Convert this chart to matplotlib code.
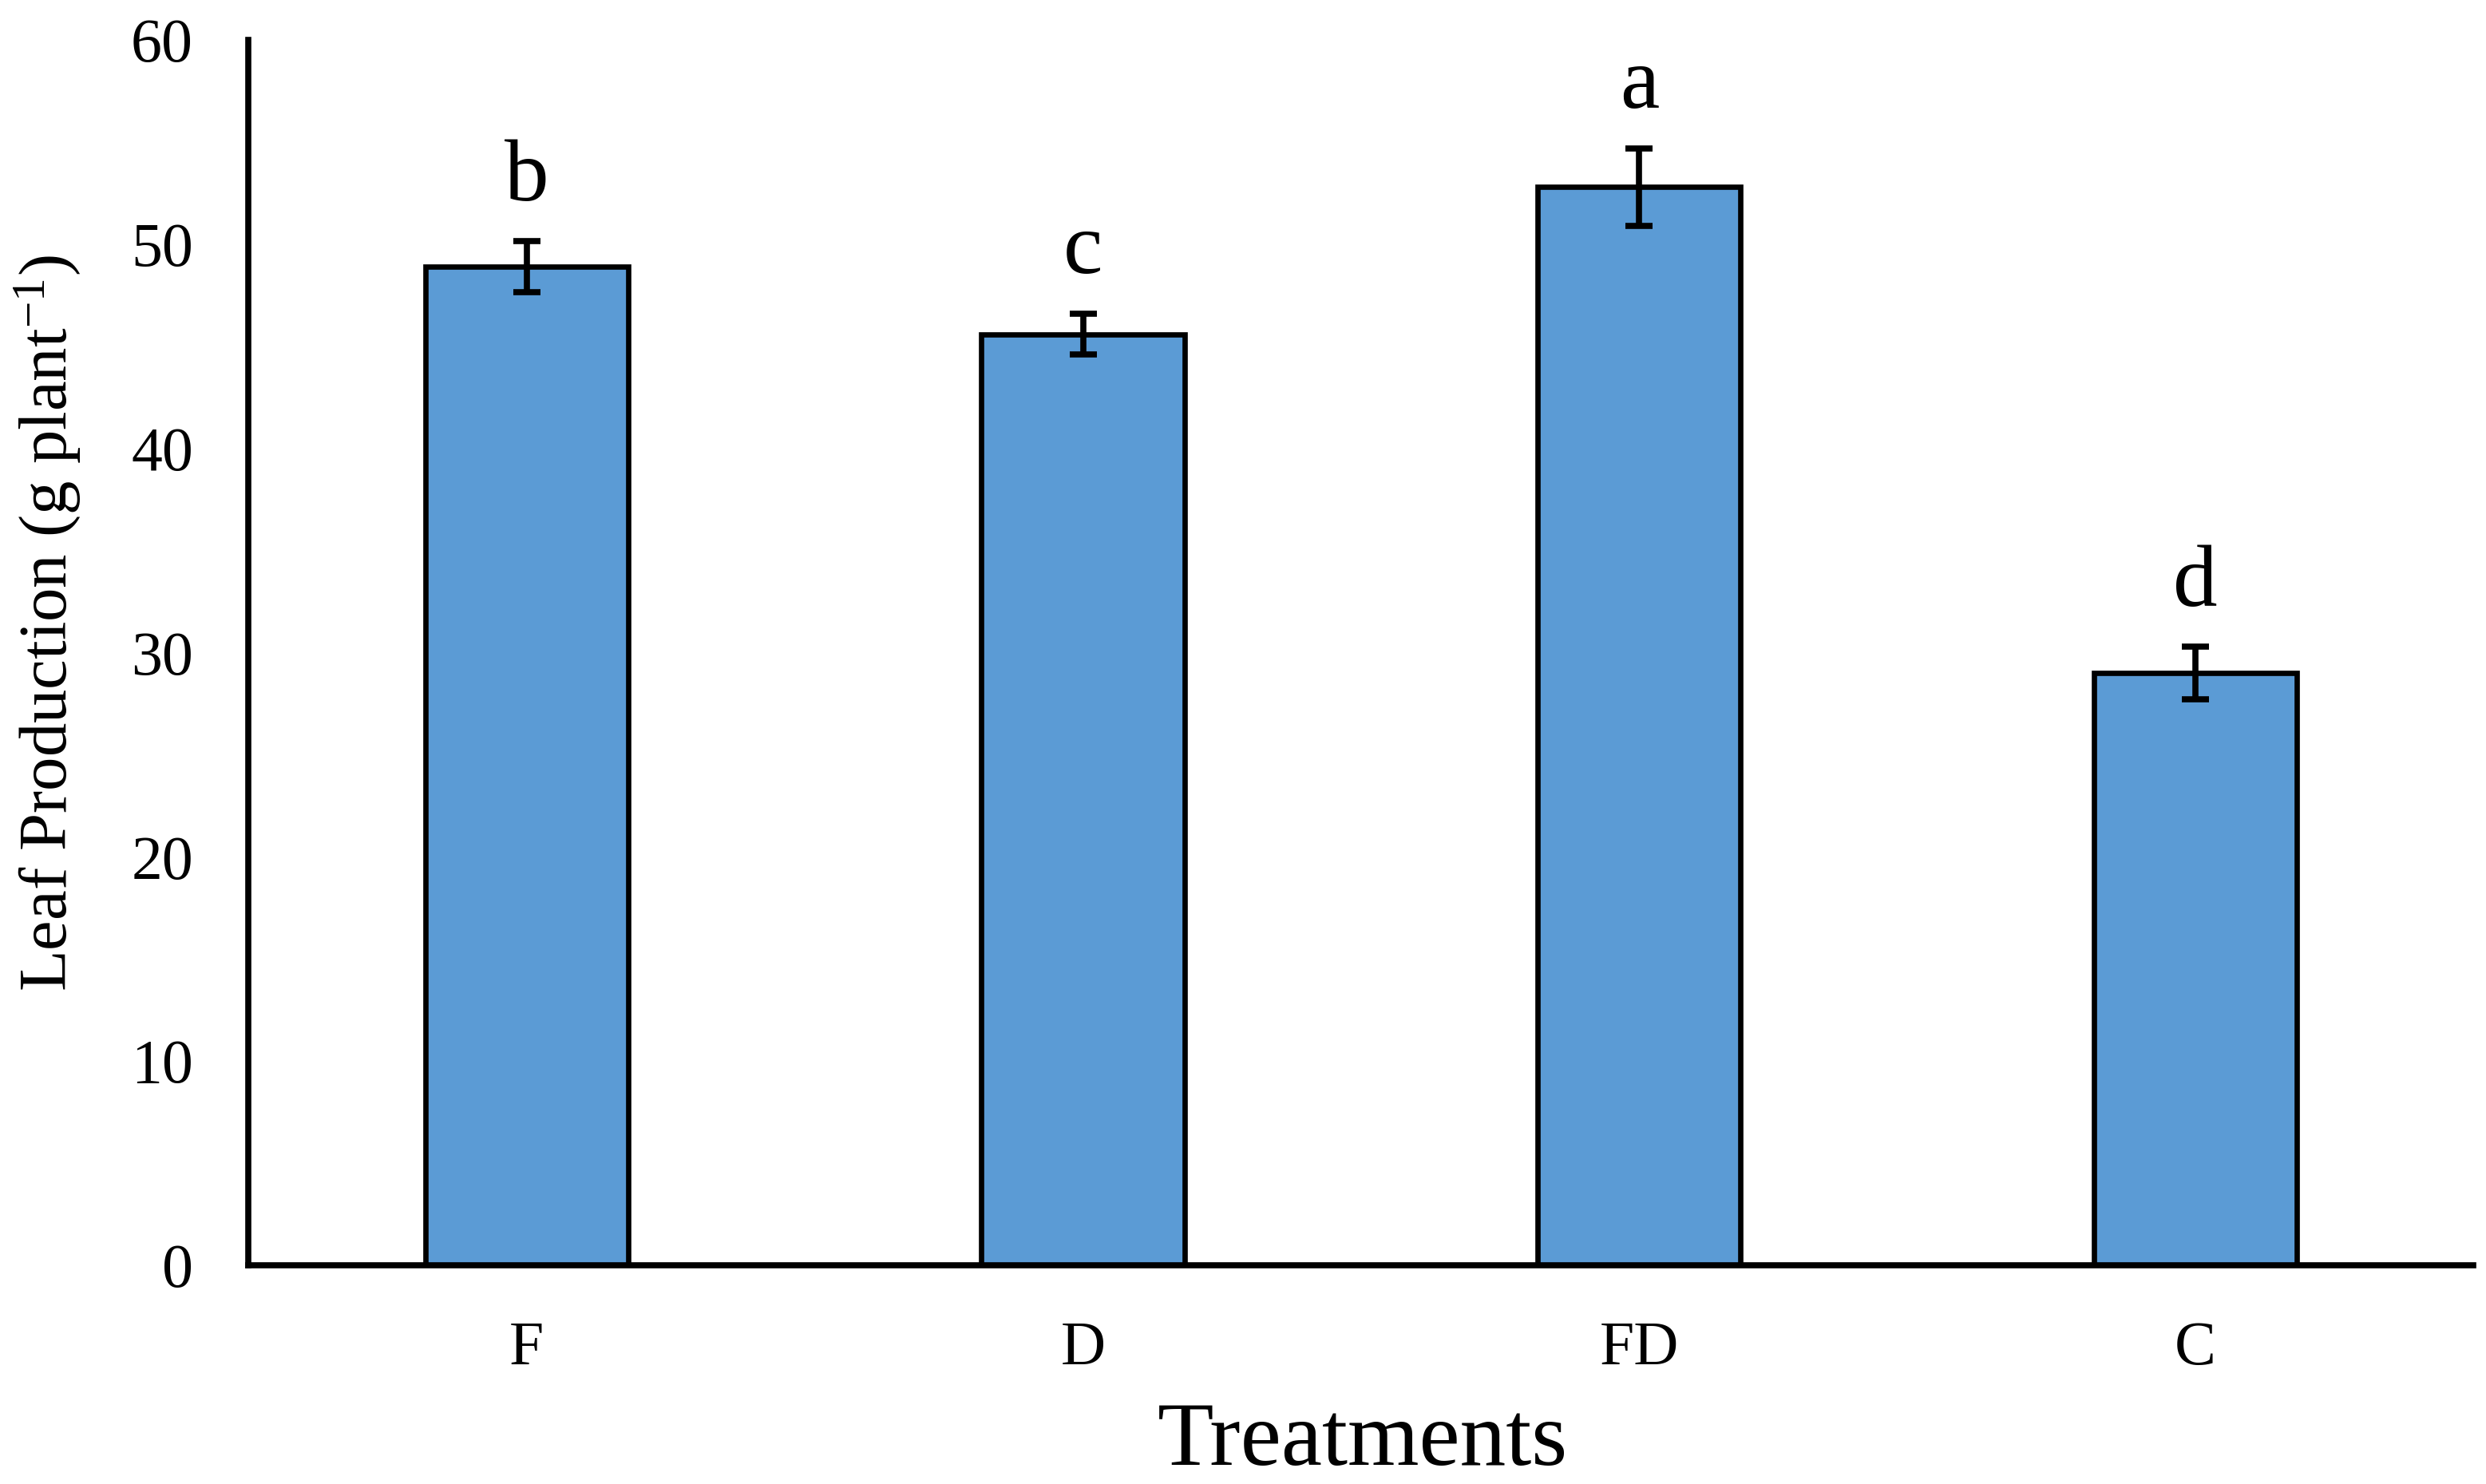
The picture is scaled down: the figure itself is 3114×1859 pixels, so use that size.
import matplotlib
matplotlib.use("Agg")
import matplotlib.pyplot as plt

categories = ["F", "D", "FD", "C"]
means = [48.9, 45.6, 52.8, 29.0]
errors = [1.25, 1.0, 1.9, 1.3]
letters = ["b", "c", "a", "d"]
yticks = [0, 10, 20, 30, 40, 50, 60]

plt.rcParams['font.family'] = ['Liberation Serif', 'DejaVu Serif']
plt.rcParams['mathtext.fontset'] = 'custom'
plt.rcParams['mathtext.rm'] = 'Liberation Serif'
plt.rcParams['mathtext.it'] = 'Liberation Serif:italic'

fig = plt.figure(figsize=(31.14, 18.59), dpi=100)
ax = fig.add_axes([0.100, 0.1474, 0.895, 0.8256])

x = list(range(len(categories)))
ax.bar(x, means, width=0.365, color='#5B9BD5', edgecolor='black', linewidth=4.8, zorder=2)
ax.errorbar(x, means, yerr=errors, fmt='none', ecolor='black', elinewidth=5.5,
            capsize=12.5, capthick=5.5, zorder=3)
for xi, m, e, l in zip(x, means, errors, letters):
    ax.text(xi, m + e + 2.0, l, ha='center', va='baseline', fontsize=80)

ax.set_xlim(-0.5, 3.5)
ax.set_ylim(0, 60)
ax.set_yticks(yticks)
ax.set_yticklabels([str(t) for t in yticks])
ax.set_xticks(x)
ax.set_xticklabels(categories)
ax.tick_params(axis='both', length=0, labelsize=56, pad=50)
for s in ['top', 'right']:
    ax.spines[s].set_visible(False)
for s in ['left', 'bottom']:
    ax.spines[s].set_linewidth(5.5)

fig.text(0.019, 0.58, "Leaf Production (g plant$^{-1}$)", rotation=90,
         ha='center', va='center', fontsize=61)
fig.text(0.548, 0.028, "Treatments", ha='center', va='center', fontsize=83)

fig.savefig("out.png", dpi=100, facecolor='white')
